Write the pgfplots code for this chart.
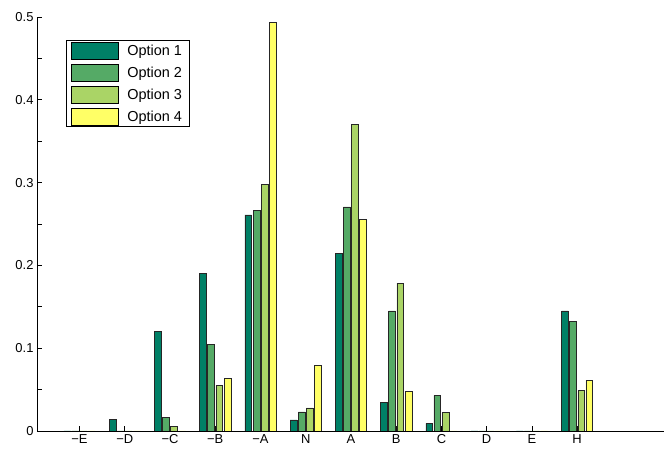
\documentclass[border=0pt]{standalone}
\usepackage{pgfplots}
\pgfplotsset{compat=1.18}
\usepackage{fontspec}
\setmainfont{Liberation Sans}
\definecolor{c1}{RGB}{0,128,102}
\definecolor{c2}{RGB}{85,170,102}
\definecolor{c3}{RGB}{170,212,102}
\definecolor{c4}{RGB}{255,255,102}
\begin{document}
\begin{tikzpicture}
\begin{axis}[
  scale only axis, width=627bp, height=414bp,
  xmin=0.06, xmax=13.92, ymin=0, ymax=0.5,
  axis x line*=bottom, axis y line*=left,
  axis line style={line width=0.7bp},
  tick align=inside, major tick length=5bp, minor tick length=5bp,
  tick style={line width=0.6bp, black},
  xtick={1,2,3,4,5,6,7,8,9,10,11,12},
  xticklabels={−E,−D,−C,−B,−A,N,A,B,C,D,E,H},
  ytick={0,0.1,0.2,0.3,0.4,0.5},
  minor ytick={0.05,0.15,0.25,0.35,0.45},
  yticklabel style={/pgf/number format/fixed, /pgf/number format/assume math mode=true},
  ticklabel style={font=\fontsize{13}{15}\selectfont},
  legend style={at={(axis description cs:0.046,0.944)}, anchor=north west, draw=black, line width=0.6bp,
    font=\fontsize{14.5}{17}\selectfont, inner xsep=5bp, inner ysep=1.5bp, row sep=4.8bp,
    nodes={inner sep=2bp}, /tikz/every odd column/.append style={column sep=7bp}},
  legend cell align=left,
  legend image code/.code={\draw[#1, draw=black, line width=0.6bp] (0bp,-8.3bp) rectangle (46.6bp,8.3bp);},
  every axis plot/.append style={ybar, bar width=0.15, draw=black!85, line width=0.6bp},
]
\addplot[fill=c1, bar shift=-0.27] coordinates {(1,0) (2,0.014) (3,0.12) (4,0.19) (5,0.261) (6,0.0133) (7,0.2145) (8,0.0345) (9,0.0093) (10,0) (11,0) (12,0.145)};
\addplot[fill=c2, bar shift=-0.09] coordinates {(1,0) (2,0) (3,0.0165) (4,0.105) (5,0.266) (6,0.023) (7,0.2707) (8,0.145) (9,0.043) (10,0) (11,0) (12,0.1325)};
\addplot[fill=c3, bar shift=0.09] coordinates {(1,0) (2,0) (3,0.006) (4,0.0554) (5,0.2976) (6,0.028) (7,0.37) (8,0.1787) (9,0.022) (10,0) (11,0) (12,0.0486)};
\addplot[fill=c4, bar shift=0.27] coordinates {(1,0) (2,0) (3,0) (4,0.064) (5,0.493) (6,0.079) (7,0.2554) (8,0.0474) (9,0) (10,0) (11,0) (12,0.0614)};
\legend{Option 1, Option 2, Option 3, Option 4}
\end{axis}
\pgfresetboundingbox
\useasboundingbox (-37bp,-21bp) rectangle (627bp,431bp);
\end{tikzpicture}
\end{document}
